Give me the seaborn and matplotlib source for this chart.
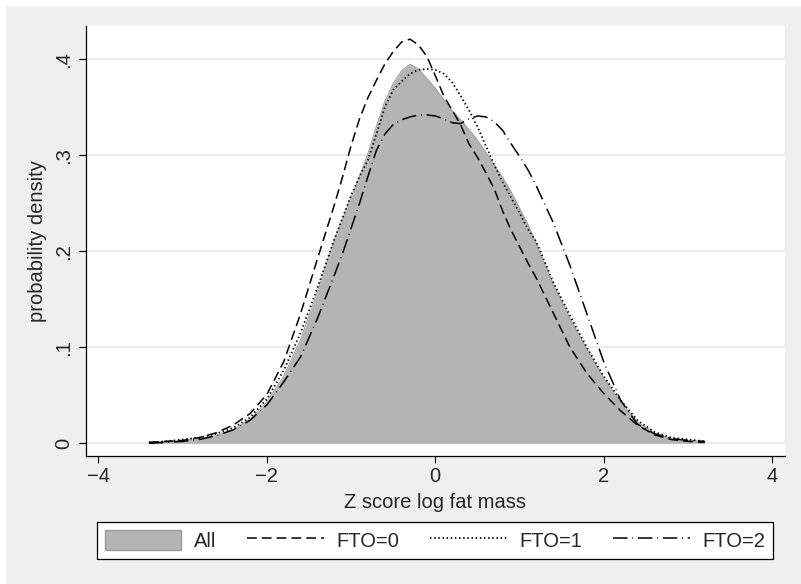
import numpy as np
import pandas as pd
import matplotlib
matplotlib.use('Agg')
import matplotlib.pyplot as plt
import seaborn as sns
from matplotlib.patches import Patch, Rectangle
from matplotlib.lines import Line2D

# values (Z score grid and kernel density heights)
z_grid = [-3.4, -3.2, -3.0, -2.8, -2.6, -2.4, -2.2, -2.0, -1.8, -1.6, -1.4, -1.2,
          -1.1, -1.0, -0.9, -0.8, -0.7, -0.6, -0.5, -0.4, -0.3, -0.2, -0.1, 0.0,
          0.1, 0.2, 0.3, 0.4, 0.5, 0.6, 0.7, 0.8, 0.9, 1.0, 1.1,
          1.2, 1.4, 1.6, 1.8, 2.0, 2.2, 2.4, 2.6, 2.8, 3.0, 3.2]

dens_all = [0.001, 0.002, 0.003, 0.005, 0.008, 0.014, 0.025, 0.043, 0.070, 0.108, 0.158, 0.212,
            0.234, 0.256, 0.278, 0.302, 0.330, 0.356, 0.375, 0.388, 0.395, 0.390, 0.380, 0.370,
            0.358, 0.347, 0.337, 0.327, 0.316, 0.303, 0.290, 0.277, 0.262, 0.245, 0.228,
            0.208, 0.166, 0.130, 0.098, 0.068, 0.043, 0.022, 0.011, 0.005, 0.003, 0.002]

dens_fto0 = [0.001, 0.002, 0.003, 0.006, 0.011, 0.019, 0.031, 0.051, 0.085, 0.135, 0.192, 0.248,
             0.278, 0.310, 0.338, 0.360, 0.378, 0.395, 0.408, 0.418, 0.421, 0.415, 0.403, 0.383,
             0.362, 0.347, 0.332, 0.312, 0.298, 0.282, 0.265, 0.242, 0.222, 0.205, 0.188,
             0.172, 0.136, 0.100, 0.073, 0.052, 0.034, 0.019, 0.009, 0.004, 0.002, 0.001]

dens_fto1 = [0.001, 0.002, 0.004, 0.006, 0.010, 0.016, 0.027, 0.046, 0.076, 0.115, 0.162, 0.212,
             0.235, 0.258, 0.278, 0.295, 0.322, 0.350, 0.368, 0.377, 0.385, 0.389, 0.390, 0.389,
             0.385, 0.376, 0.362, 0.347, 0.330, 0.310, 0.290, 0.272, 0.256, 0.240, 0.223,
             0.210, 0.168, 0.133, 0.100, 0.070, 0.045, 0.024, 0.012, 0.006, 0.004, 0.002]

dens_fto2 = [0.000, 0.001, 0.002, 0.004, 0.008, 0.014, 0.024, 0.040, 0.064, 0.090, 0.130, 0.175,
             0.198, 0.224, 0.250, 0.278, 0.305, 0.322, 0.332, 0.337, 0.340, 0.342, 0.342, 0.341,
             0.338, 0.334, 0.333, 0.338, 0.341, 0.340, 0.335, 0.326, 0.312, 0.299, 0.285,
             0.268, 0.230, 0.185, 0.135, 0.085, 0.045, 0.020, 0.010, 0.005, 0.003, 0.002]

x_ticks = [-4, -2, 0, 2, 4]
y_ticks = [0, 0.1, 0.2, 0.3, 0.4]
y_tick_labels = ['0', '.1', '.2', '.3', '.4']
legend_labels = ['All', 'FTO=0', 'FTO=1', 'FTO=2']

df = pd.DataFrame({'z': z_grid, 'All': dens_all, 'FTO=0': dens_fto0,
                   'FTO=1': dens_fto1, 'FTO=2': dens_fto2})

sns.set_theme(style='white')
plt.rcParams['font.family'] = ['Liberation Sans', 'DejaVu Sans']
FS = 14.5

fig = plt.figure(figsize=(8.01, 5.84), dpi=100)
fig.patch.set_facecolor('white')
# light grey graph region (Stata style)
fig.patches.append(Rectangle((6 / 801, 0), 1 - 6 / 801, 1 - 6 / 584,
                             transform=fig.transFigure, facecolor='#EFEFEF',
                             edgecolor='none', zorder=-10))

ax = fig.add_axes([86 / 801, 1 - 456 / 584, 699 / 801, 430 / 584])
ax.set_facecolor('white')

# grid lines
for yt in y_ticks:
    ax.axhline(yt, color='#E6E6E6', lw=1.1, zorder=0)

# filled density for all
ax.fill_between(df['z'], df['All'], 0, color='#B4B4B4', lw=0, zorder=1)
sns.lineplot(data=df, x='z', y='All', ax=ax, color='#A4A4A4', lw=0.8, zorder=2)

# (linestyle, linewidth) per genotype line
styles = {
    'FTO=0': ((0, (6.4, 3.3)), 1.1),
    'FTO=1': ((0, (0.8, 1.5)), 1.3),
    'FTO=2': ((0, (9.5, 3.1, 0.6, 3.1)), 1.1),
}
for name, (ls, lw) in styles.items():
    sns.lineplot(data=df, x='z', y=name, ax=ax, color='black', lw=lw,
                 linestyle=ls, zorder=3)

ax.set_xlim(-4.148, 4.153)
ax.set_ylim(-0.0132, 0.4347)
ax.set_xticks(x_ticks)
ax.set_xticklabels([f'{t:d}'.replace('-', '\u2212') for t in x_ticks], fontsize=FS)
ax.set_yticks(y_ticks)
ax.set_yticklabels(y_tick_labels, fontsize=FS, rotation=90, va='center')

for s in ['top', 'right']:
    ax.spines[s].set_visible(False)
for s in ['left', 'bottom']:
    ax.spines[s].set_color('black')
    ax.spines[s].set_linewidth(0.9)

ax.tick_params(axis='both', which='major', direction='out', length=5, width=0.8,
               color='black', left=True, bottom=True)
ax.tick_params(axis='x', pad=3)
ax.tick_params(axis='y', pad=4)

ax.set_xlabel('Z score log fat mass', fontsize=FS)
ax.set_ylabel('probability density', fontsize=FS)
ax.xaxis.set_label_coords(0.5, -0.086)
ax.yaxis.set_label_coords(-0.0558, 0.5)

handles = [Patch(facecolor='#B4B4B4', edgecolor='#9C9C9C', lw=1.0)]
for name in legend_labels[1:]:
    ls, lw = styles[name]
    handles.append(Line2D([], [], color='black', lw=lw, linestyle=ls))

leg = fig.legend(handles, legend_labels, loc='center', bbox_to_anchor=(0.543, 0.0745),
                 ncol=4, fontsize=FS, frameon=True, fancybox=False,
                 handlelength=3.8, handleheight=1.1, handletextpad=0.62,
                 columnspacing=1.55, borderpad=0.4)
leg.get_frame().set_edgecolor('black')
leg.get_frame().set_linewidth(0.9)
leg.get_frame().set_facecolor('white')
leg.get_frame().set_alpha(1)

fig.savefig('out.png', dpi=100)
